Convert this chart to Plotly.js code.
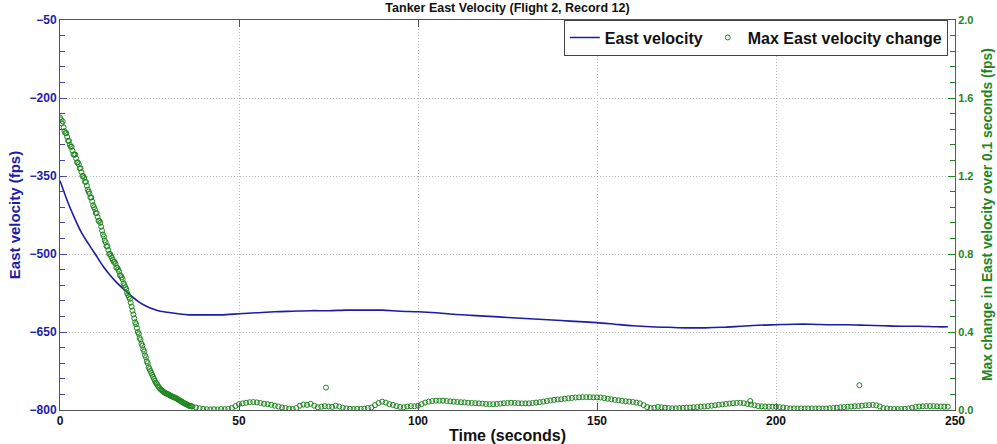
<!DOCTYPE html>
<html>
<head>
<meta charset="utf-8">
<script src="https://cdn.plot.ly/plotly-3.0.1.min.js"></script>
<style>html,body{margin:0;padding:0;background:#fff;}#chart{width:997px;height:444px;}</style>
</head>
<body>
<div id="chart"></div>
<script>
// East velocity (fps) vs time (s)
var velTime = [0,2,4,6,8,10,12,14,16,18,20,22,24,26,28,30,32,34,36,40,45,50,55,60,65,70,75,80,85,90,95,100,105,110,115,120,125,130,135,140,145,150,155,160,165,170,175,180,185,190,195,200,205,210,215,220,225,230,235,240,245,248];
var velValues = [-359,-397,-430,-459,-481,-502,-523,-541,-556,-569,-581,-592,-600,-606,-610,-612,-614,-616,-617,-617,-617,-615,-613,-611,-610,-609,-609,-608,-608,-608,-610,-611,-613,-616,-618,-620,-622,-624,-626,-628,-630,-632,-635,-638,-640,-641,-642,-642,-641,-639,-637,-636,-635,-635,-636,-636,-637,-638,-639,-639,-640,-640];

// Max East velocity change (fps): steep part read every 0.25 s (0 .. 36.75)
var chgTimeA = [0,0.25,0.5,0.75,1,1.25,1.5,1.75,2,2.25,2.5,2.75,3,3.25,3.5,3.75,4,4.25,4.5,4.75,5,5.25,5.5,5.75,6,6.25,6.5,6.75,7,7.25,7.5,7.75,8,8.25,8.5,8.75,9,9.25,9.5,9.75,
  10,10.25,10.5,10.75,11,11.25,11.5,11.75,12,12.25,12.5,12.75,13,13.25,13.5,13.75,14,14.25,14.5,14.75,15,15.25,15.5,15.75,16,16.25,16.5,16.75,17,17.25,17.5,17.75,18,18.25,18.5,18.75,19,19.25,19.5,19.75,
  20,20.25,20.5,20.75,21,21.25,21.5,21.75,22,22.25,22.5,22.75,23,23.25,23.5,23.75,24,24.25,24.5,24.75,25,25.25,25.5,25.75,26,26.25,26.5,26.75,27,27.25,27.5,27.75,28,28.25,28.5,28.75,29,29.25,29.5,29.75,
  30,30.25,30.5,30.75,31,31.25,31.5,31.75,32,32.25,32.5,32.75,33,33.25,33.5,33.75,34,34.25,34.5,34.75,35,35.25,35.5,35.75,36,36.25,36.5,36.75];
var chgValuesA = [1.50,1.49,1.47,1.48,1.45,1.43,1.42,1.42,1.40,1.38,1.38,1.36,1.35,1.35,1.33,1.31,1.31,1.31,1.29,1.27,1.27,1.26,1.24,1.24,1.22,1.20,1.20,1.19,1.17,1.17,1.15,1.13,1.12,1.11,1.09,1.09,1.07,1.05,1.04,1.03,
  1.01,1.01,0.99,0.97,0.97,0.96,0.94,0.92,0.90,0.89,0.87,0.86,0.84,0.84,0.82,0.80,0.80,0.79,0.78,0.77,0.76,0.76,0.75,0.73,0.73,0.72,0.71,0.69,0.69,0.68,0.67,0.65,0.64,0.63,0.62,0.60,0.59,0.58,0.57,0.55,
  0.53,0.51,0.49,0.47,0.45,0.44,0.42,0.40,0.39,0.37,0.36,0.34,0.33,0.31,0.30,0.28,0.27,0.25,0.24,0.22,0.21,0.20,0.19,0.18,0.17,0.16,0.15,0.14,0.135,0.127,0.12,0.114,0.108,0.104,0.10,0.096,0.092,0.089,0.087,0.084,
  0.082,0.080,0.078,0.075,0.072,0.070,0.068,0.066,0.064,0.062,0.060,0.057,0.054,0.051,0.048,0.046,0.043,0.040,0.037,0.034,0.032,0.030,0.027,0.025,0.022,0.021,0.020,0.019];

// flat part read every 1 s (37 .. 248)
var chgTimeB = [37,38,39,40,
  41,42,43,44,45,46,47,48,49,50, 51,52,53,54,55,56,57,58,59,60, 61,62,63,64,65,66,67,68,69,70, 71,72,73,74,75,76,77,78,79,80,
  81,82,83,84,85,86,87,88,89,90, 91,92,93,94,95,96,97,98,99,100, 101,102,103,104,105,106,107,108,109,110, 111,112,113,114,115,116,117,118,119,120,
  121,122,123,124,125,126,127,128,129,130, 131,132,133,134,135,136,137,138,139,140, 141,142,143,144,145,146,147,148,149,150, 151,152,153,154,155,156,157,158,159,160,
  161,162,163,164,165,166,167,168,169,170, 171,172,173,174,175,176,177,178,179,180, 181,182,183,184,185,186,187,188,189,190, 191,192,193,194,195,196,197,198,199,200,
  201,202,203,204,205,206,207,208,209,210, 211,212,213,214,215,216,217,218,219,220, 221,222,223,224,225,226,227,228,229,230, 231,232,233,234,235,236,237,238,239,240,
  241,242,243,244,245,246,247,248];
var chgValuesB = [0.018,0.013,0.009,0.006,
  0.004,0.003,0.004,0.003,0.005,0.004,0.006,0.010,0.020,0.030, 0.034,0.037,0.040,0.041,0.039,0.036,0.032,0.030,0.027,0.022, 0.018,0.013,0.010,0.007,0.005,0.010,0.022,0.028,0.026,0.032, 0.022,0.014,0.017,0.020,0.018,0.016,0.022,0.018,0.012,0.008,
  0.006,0.005,0.006,0.006,0.007,0.010,0.013,0.025,0.036,0.043, 0.038,0.030,0.026,0.020,0.016,0.014,0.018,0.020,0.019,0.022, 0.030,0.038,0.043,0.046,0.048,0.048,0.048,0.046,0.044,0.043, 0.041,0.040,0.039,0.037,0.036,0.035,0.034,0.033,0.031,0.030,
  0.030,0.031,0.033,0.035,0.036,0.037,0.036,0.035,0.034,0.034, 0.034,0.036,0.038,0.040,0.043,0.046,0.049,0.052,0.054,0.055, 0.058,0.060,0.062,0.064,0.065,0.066,0.066,0.066,0.065,0.065, 0.064,0.061,0.058,0.055,0.052,0.050,0.047,0.045,0.043,0.041,
  0.038,0.034,0.025,0.015,0.010,0.012,0.016,0.014,0.012,0.010, 0.009,0.009,0.010,0.011,0.012,0.013,0.014,0.015,0.017,0.018, 0.020,0.022,0.024,0.027,0.029,0.031,0.033,0.035,0.036,0.037, 0.035,0.031,0.028,0.024,0.020,0.019,0.018,0.017,0.017,0.017,
  0.015,0.013,0.010,0.008,0.008,0.008,0.008,0.008,0.008,0.008, 0.008,0.008,0.008,0.008,0.009,0.010,0.012,0.014,0.015,0.017, 0.018,0.020,0.020,0.022,0.024,0.025,0.026,0.024,0.018,0.010, 0.008,0.006,0.005,0.005,0.005,0.006,0.008,0.012,0.016,0.018,
  0.019,0.020,0.020,0.020,0.019,0.018,0.017,0.017];

// isolated outlier points
var chgTimeOut = [74.3, 192.8, 223.3];
var chgValuesOut = [0.115, 0.046, 0.127];

var leftTicks = [-800,-650,-500,-350,-200,-50];
var rightTicks = [0,0.4,0.8,1.2,1.6,2.0];
var xTicks = [0,50,100,150,200,250];

var BLUE = '#1c1ca6', GREEN = '#1e861e';
var FONT = 'Liberation Sans, Arial, sans-serif';

var chgTime = chgTimeA.concat(chgTimeB, chgTimeOut);
var chgValues = chgValuesA.concat(chgValuesB, chgValuesOut);

var traces = [
  {x: velTime, y: velValues, type: 'scatter', mode: 'lines', name: 'East velocity',
   line: {color: BLUE, width: 1.6, shape: 'spline', smoothing: 0.8}, yaxis: 'y'},
  {x: chgTime, y: chgValues, type: 'scatter', mode: 'markers', name: 'Max East velocity change',
   marker: {symbol: 'circle-open', size: 5, color: GREEN, line: {width: 1, color: GREEN}}, yaxis: 'y2'}
];

var GRID = '#bdbdbd';
var layout = {
  width: 997, height: 444,
  margin: {l: 60, r: 42, t: 20, b: 34, pad: 0},
  paper_bgcolor: '#fff', plot_bgcolor: '#fff',
  showlegend: true,
  title: {text: 'Tanker East Velocity (Flight 2, Record 12)', font: {family: FONT, size: 12.5, weight: 'bold', color: '#111'},
          x: 0.5, xref: 'paper', xanchor: 'center', y: 0.982, yanchor: 'middle'},
  xaxis: {range: [xTicks[0], xTicks[xTicks.length-1]], tickmode: 'linear', tick0: xTicks[0], dtick: xTicks[1]-xTicks[0],
          ticks: 'inside', ticklen: 7, tickcolor: '#555',
          showline: true, linecolor: '#555', linewidth: 1, mirror: 'ticks', zeroline: false,
          showgrid: true, gridcolor: GRID, griddash: '1px,2px', gridwidth: 1,
          tickfont: {family: FONT, size: 12, weight: 'bold', color: '#111'},
          title: {text: 'Time (seconds)', font: {family: FONT, size: 16, weight: 'bold', color: '#111'}, standoff: 4}},
  yaxis: {range: [leftTicks[0], leftTicks[leftTicks.length-1]], tickmode: 'linear', tick0: leftTicks[0], dtick: leftTicks[1]-leftTicks[0],
          ticks: 'inside', ticklen: 7, tickcolor: '#4848a8', tickwidth: 1,
          showline: true, linecolor: '#4848a8', linewidth: 1, zeroline: false,
          showgrid: true, gridcolor: GRID, griddash: '1px,2px', gridwidth: 1,
          minor: {tickmode: 'linear', dtick: 30, tick0: -800, ticks: 'inside', ticklen: 5, tickwidth: 1, tickcolor: '#4848a8', showgrid: false},
          tickfont: {family: FONT, size: 12, weight: 'bold', color: BLUE},
          title: {text: 'East velocity (fps)', font: {family: FONT, size: 15, weight: 'bold', color: BLUE}}},
  yaxis2: {range: [rightTicks[0], rightTicks[rightTicks.length-1]], overlaying: 'y', side: 'right',
           tickmode: 'linear', tick0: rightTicks[0], dtick: 0.4, tickformat: '.1f',
           ticks: 'inside', ticklen: 7, tickcolor: GREEN, tickwidth: 1,
           showline: true, linecolor: GREEN, linewidth: 1, zeroline: false, showgrid: false,
           minor: {tickmode: 'linear', dtick: 0.08, tick0: 0, ticks: 'inside', ticklen: 5, tickwidth: 1, tickcolor: GREEN, showgrid: false},
           tickfont: {family: FONT, size: 11, weight: 'bold', color: GREEN}},
  annotations: [{text: 'Max change in East velocity over 0.1 seconds (fps)', textangle: -90,
                 xref: 'paper', yref: 'paper', x: (987 - 60) / 895, y: 0.5, xanchor: 'center', yanchor: 'middle', showarrow: false,
                 font: {family: FONT, size: 13.8, weight: 'bold', color: GREEN}}],
  legend: {orientation: 'h', x: 0.992, xanchor: 'right', y: 0.955, yanchor: 'middle',
           bgcolor: '#fff', bordercolor: '#444', borderwidth: 1,
           font: {family: FONT, size: 16, weight: 'bold', color: '#111'}}
};

Plotly.newPlot('chart', traces, layout, {displayModeBar: false, staticPlot: true});
</script>
</body>
</html>
